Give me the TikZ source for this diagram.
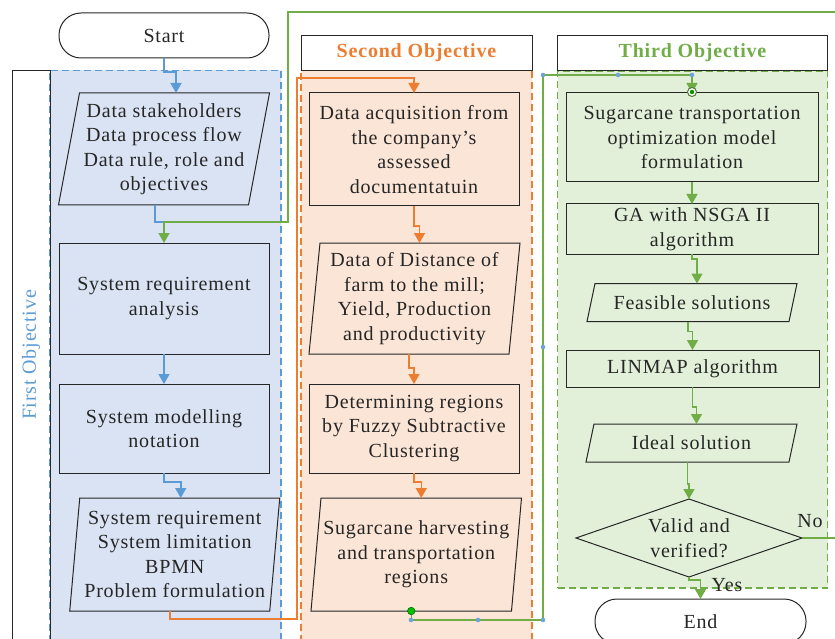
\documentclass[tikz,border=0pt]{standalone}
\usepackage{fontspec}
\setmainfont[LetterSpace=4]{Liberation Serif}
\usetikzlibrary{arrows.meta}
\definecolor{cblue}{HTML}{5B9BD5}
\definecolor{corange}{HTML}{ED7D31}
\definecolor{cgreen}{HTML}{70AD47}
\definecolor{fblue}{HTML}{DAE3F3}
\definecolor{forange}{HTML}{FBE5D6}
\definecolor{fgreen}{HTML}{E2F0D9}
\definecolor{handle}{HTML}{6FA3DC}
\newcommand{\paral}[2]{\draw[shapeline] ([xshift=#2]#1.north west) -- ([xshift=#2]#1.north east) -- ([xshift=-#2]#1.south east) -- ([xshift=-#2]#1.south west) -- cycle;}
\begin{document}
\begin{tikzpicture}[x=1pt,y=-1pt,
  every node/.style={inner sep=0pt, outer sep=0pt},
  txt/.style={font=\fontsize{20}{24.5}\selectfont, align=center, text=black!85},
  box/.style={txt, draw=black!85, line width=1pt},
  shapeline/.style={draw=black!85, line width=1pt},
  panel/.style={dashed, dash pattern=on 7pt off 4pt, line width=1.1pt},
  header/.style={draw=black!85, line width=1pt, fill=white, font=\fontsize{20}{24}\selectfont\bfseries},
  conn/.style={line width=1.5pt, -{Triangle[width=11pt,length=10pt]}},
  bconn/.style={conn, cblue},
  oconn/.style={conn, corange},
  gconn/.style={conn, cgreen},
  hdot/.style={fill=handle},
]
\useasboundingbox (0,0) rectangle (835,639);
\clip (0,0) rectangle (835,639);

% panels
\node[panel, draw=cblue, fill=fblue, minimum width=231pt, minimum height=580pt] (p1) at (165.5,360.5) {};
\node[draw=black!85, line width=1pt, minimum width=38pt, minimum height=580pt] (lab1) at (31,360.5) {};
\node[rotate=90, text=cblue, font=\fontsize{20}{24}\selectfont] (t1) at (31,355) {First Objective};

\node[panel, draw=corange, fill=forange, minimum width=231pt, minimum height=580pt] (p2) at (416.5,360.5) {};
\node[header, text=corange, minimum width=231pt, minimum height=35pt] (h2) at (416.5,53) {Second Objective};

\node[panel, draw=cgreen, fill=fgreen, minimum width=270pt, minimum height=517pt] (p3) at (692.5,329.5) {};
\node[header, text=cgreen, minimum width=270pt, minimum height=35pt] (h3) at (692.5,53) {Third Objective};

% first column
\node[box, rounded corners=22pt, minimum width=210pt, minimum height=45pt] (start) at (164,35.5) {Start};
\node[txt, minimum width=190pt, minimum height=112pt] (ds) at (164,149) {Data stakeholders\\Data process flow\\Data rule, role and\\objectives};
\paral{ds}{10.5pt}
\node[box, minimum width=210pt, minimum height=111pt] (sra) at (164,298.5) {System requirement\\analysis};
\node[box, minimum width=210pt, minimum height=89pt] (sm) at (164,428.5) {System modelling\\notation};
\node[txt, minimum width=200pt, minimum height=113pt] (sr) at (174.75,554.5) {System requirement\\System limitation\\BPMN\\Problem formulation};
\paral{sr}{5pt}

% second column
\node[box, minimum width=210pt, minimum height=113pt] (da) at (414,149.5) {Data acquisition from\\the company’s\\assessed\\documentatuin};
\node[txt, minimum width=200pt, minimum height=111pt] (dd) at (414.5,298.5) {Data of Distance of\\farm to the mill;\\Yield, Production\\and productivity};
\paral{dd}{5.5pt}
\node[box, minimum width=210pt, minimum height=89pt] (dr) at (414,428.5) {Determining regions\\by Fuzzy Subtractive\\Clustering};
\node[txt, minimum width=200.5pt, minimum height=113pt] (sh) at (416.25,554.5) {Sugarcane harvesting\\and transportation\\regions};
\paral{sh}{5pt}

% third column
\node[box, minimum width=252pt, minimum height=89pt] (st) at (692,137.5) {Sugarcane transportation\\optimization model\\formulation};
\node[box, minimum width=252pt, minimum height=50pt] (ga) at (692,229) {GA with NSGA II\\algorithm};
\node[txt, minimum width=202pt, minimum height=38pt] (fs) at (692,302.5) {Feasible solutions};
\paral{fs}{4pt}
\node[box, minimum width=253pt, minimum height=37pt] (lm) at (692.5,368.5) {LINMAP algorithm};
\node[txt, minimum width=203pt, minimum height=38pt] (is) at (691.5,443) {Ideal solution};
\paral{is}{4pt}
\node[txt, minimum width=226pt, minimum height=78pt] (vd) at (689,538) {Valid and\\verified?};
\draw[shapeline] (vd.north) -- (vd.east) -- (vd.south) -- (vd.west) -- cycle;
\node[box, rounded corners=22pt, minimum width=211pt, minimum height=45pt] (end) at (700.5,621.5) {End};
\node[txt] (yes) at (727,585) {Yes};
\node[txt] (no) at (810,521) {No};

% connectors blue
\draw[bconn] (start.south) -- ++(0,14) -| ([xshift=12pt]ds.north);
\draw[cblue, line width=1.5pt] ([xshift=-9pt]ds.south) -- ++(0,17) -- ++(8,0);
\draw[gconn] (vd.east) -- (845,538) -- (845,12) -- (288,12) -- (288,222) -| (sra.north);
\draw[bconn] (sra.south) -- (sm.north);
\draw[bconn] (sm.south) -- ++(0,9) -| ([xshift=6pt]sr.north);

% connectors orange
\draw[oconn] ([xshift=-5pt]sr.south) -- ++(0,8) -- (297,619) -- (297,78) -| (da.north);
\draw[oconn] (da.south) -- ++(0,20) -| ([xshift=5pt]dd.north);
\draw[oconn] ([xshift=-5.5pt]dd.south) -- ++(0,14) -| (dr.north);
\draw[oconn] (dr.south) -- ++(0,9) -| ([xshift=5pt]sh.north);

% connectors green
\draw[gconn] ([xshift=-5pt]sh.south) -- ++(0,9) -- (543,620) -- (543,75) -| (st.north);
\draw[gconn] (st.south) -- (ga.north);
\draw[gconn] (ga.south) -- ++(0,5) -| ([xshift=5pt]fs.north);
\draw[gconn] ([xshift=-4pt]fs.south) -- ++(0,10) -| (lm.north);
\draw[gconn] (lm.south) -- ++(0,20) -| ([xshift=5pt]is.north);
\draw[gconn] ([xshift=-4pt]is.south) -- ++(0,22) -| (vd.north);
\draw[gconn] (vd.south) -- ++(0,3) -| (end.north);

% selection handles
\foreach \p in {(543,75),(618,75),(692,75),(543,347),(411,620),(478,620),(543,620)}
  \fill[hdot] \p circle (2.3pt);
\filldraw[fill=green!75!black, draw=green!40!black, line width=0.5pt] (411.25,611) circle (3.8pt);
\filldraw[fill=white, draw=cgreen!70!black, line width=1pt] (692,92) circle (4.5pt);
\fill[green!60!black] (692,92) circle (2.2pt);
\end{tikzpicture}
\end{document}
